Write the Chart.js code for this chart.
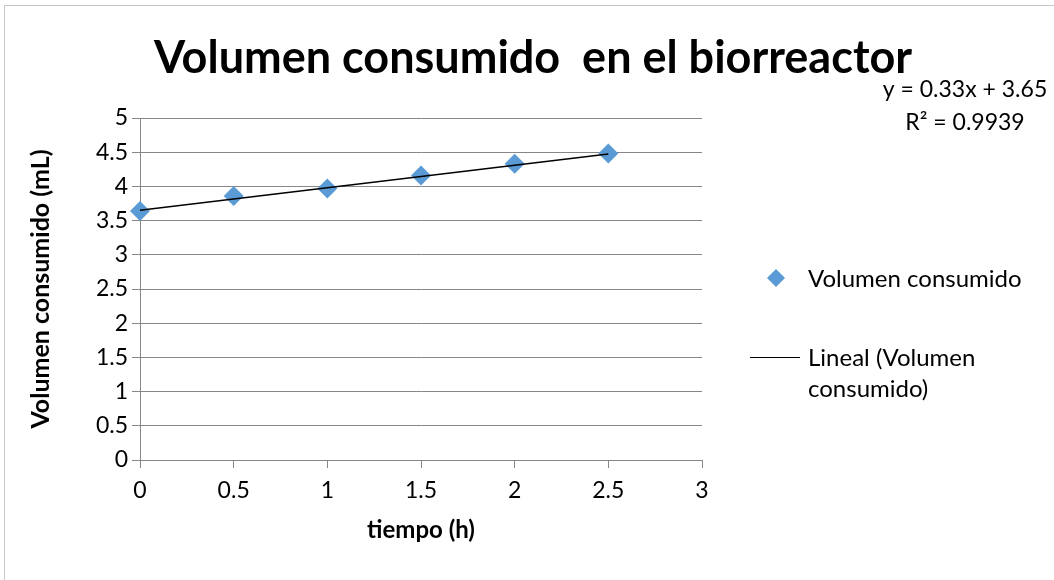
<!DOCTYPE html>
<html>
<head>
<meta charset="utf-8">
<script src="https://cdn.jsdelivr.net/npm/chart.js@4"></script>
<style>
  html, body { margin: 0; padding: 0; background: #fff; }
  #wrap { width: 1054px; height: 580px; position: relative; }
</style>
</head>
<body>
<div id="wrap"><canvas id="chart" width="1054" height="580"></canvas></div>
<script>
// Data
const tiempo = [0, 0.5, 1, 1.5, 2, 2.5];
const volumen = [3.64, 3.86, 3.97, 4.16, 4.33, 4.48];
const trendSlope = 0.33;
const trendIntercept = 3.65;
const trendLabel = ['y = 0.33x + 3.65', 'R\u00B2 = 0.9939'];
const titleText = 'Volumen consumido  en el biorreactor';
const seriesName = 'Volumen consumido';
const trendName = ['Lineal (Volumen', 'consumido)'];

let blue = '#5B9BD5';
let gridGrey = '#878787';
let font = 'Lato';

const points = tiempo.map((x, i) => ({ x: x, y: volumen[i] }));
const xEnds = [tiempo[0], tiempo[tiempo.length - 1]];
const trend = xEnds.map(x => ({ x: x, y: trendSlope * x + trendIntercept }));

// title, legend and equation
const extrasPlugin = {
  id: 'extras',
  beforeDraw(chart) {
    const ctx = chart.ctx;
    ctx.save();
    ctx.strokeStyle = '#c8c8c8';
    ctx.lineWidth = 1;
    ctx.strokeRect(4.5, 5.5, 1200, 700);
    ctx.restore();
  },
  afterDraw(chart) {
    const ctx = chart.ctx;
    ctx.save();
    ctx.fillStyle = '#000';
    ctx.textBaseline = 'middle';

    ctx.font = 'bold 45px ' + font;
    ctx.textAlign = 'center';
    ctx.fillText(titleText, 533, 58);

    ctx.font = '23px ' + font;
    ctx.fillText(trendLabel[0], 965, 90);
    ctx.fillText(trendLabel[1], 965, 123);

    // legend
    ctx.font = '24px ' + font;
    ctx.textAlign = 'left';
    ctx.fillStyle = blue;
    ctx.beginPath();
    ctx.moveTo(776, 269); ctx.lineTo(785, 278); ctx.lineTo(776, 287); ctx.lineTo(767, 278);
    ctx.closePath();
    ctx.fill();
    ctx.fillStyle = '#000';
    ctx.fillText(seriesName, 808, 279);

    ctx.strokeStyle = '#000';
    ctx.lineWidth = 1;
    ctx.beginPath();
    ctx.moveTo(750, 357.5); ctx.lineTo(800, 357.5);
    ctx.stroke();
    ctx.fillText(trendName[0], 808, 358);
    ctx.fillText(trendName[1], 808, 389);
    ctx.restore();
  }
};

new Chart(document.getElementById('chart'), {
  type: 'scatter',
  data: {
    datasets: [{
      label: seriesName,
      data: points,
      pointStyle: 'rectRot',
      pointRadius: 10,
      pointHoverRadius: 10,
      backgroundColor: blue,
      borderColor: blue,
      borderWidth: 0,
      clip: false,
      order: 2
    }, {
      label: trendName.join(' '),
      type: 'line',
      data: trend,
      borderColor: '#000',
      borderWidth: 1.5,
      pointRadius: 0,
      fill: false,
      clip: false,
      order: 1
    }]
  },
  options: {
    responsive: false,
    animation: false,
    layout: { padding: { top: 118, left: 0, right: 352, bottom: 0 } },
    plugins: {
      legend: { display: false },
      title: { display: false },
      tooltip: { enabled: false }
    },
    scales: {
      x: {
        type: 'linear',
        min: 0,
        max: 3,
        ticks: {
          stepSize: 0.5, color: '#000', padding: 9,
          font: { family: font, size: 23 },
          callback: v => String(v)
        },
        grid: { drawOnChartArea: false, drawTicks: true, tickLength: 8, color: gridGrey },
        border: { display: false },
        title: {
          display: true,
          text: 'tiempo (h)',
          color: '#000',
          font: { family: font, size: 24, weight: 'bold' },
          padding: { top: 0, bottom: 35 }
        },
        afterFit(axis) { axis.height = 120; }
      },
      y: {
        min: 0,
        max: 5,
        ticks: {
          stepSize: 0.5, color: '#000', padding: 4,
          font: { family: font, size: 23 },
          callback: v => String(v)
        },
        grid: { color: gridGrey, tickLength: 8 },
        border: { color: gridGrey },
        title: {
          display: true,
          text: 'Volumen consumido (mL)',
          color: '#000',
          font: { family: font, size: 25, weight: 'bold' },
          padding: { top: 26, bottom: 0 }
        },
        afterFit(axis) { axis.width = 140; }
      }
    }
  },
  plugins: [extrasPlugin]
});
</script>
</body>
</html>
